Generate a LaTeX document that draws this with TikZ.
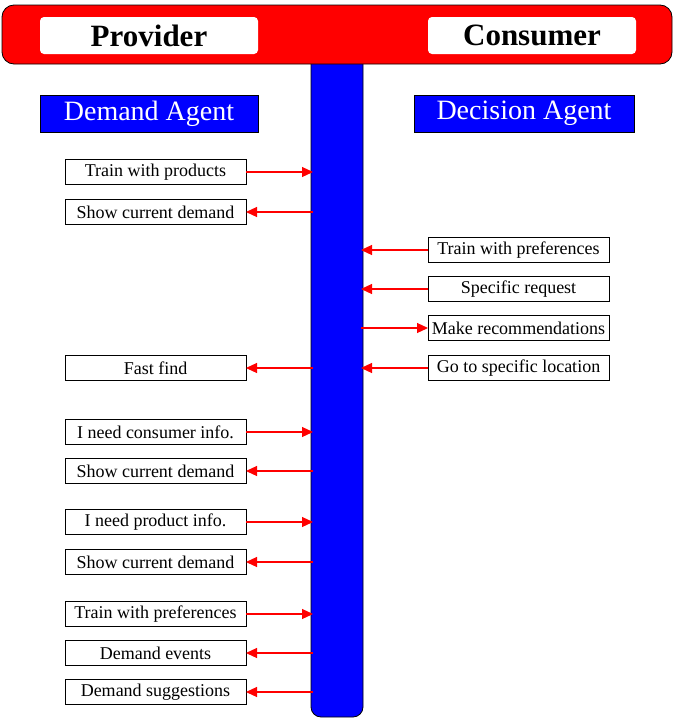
\documentclass[tikz,border=0pt]{standalone}
\usepackage{fontspec}
\setmainfont{Liberation Serif}
\usetikzlibrary{positioning}
\usetikzlibrary{arrows.meta}

\begin{document}
\begin{tikzpicture}[x=1pt, y=-1pt,
      every node/.style={inner sep=0pt, outer sep=0pt},
      role/.style={fill=white, rounded corners=4pt, minimum height=37pt,
         font=\bfseries\fontsize{31}{33}\selectfont},
      agent/.style={draw, fill=blue, text=white, line width=0.8pt,
         minimum height=37pt, font=\fontsize{28}{30}\selectfont},
      msg/.style={draw, fill=white, line width=0.8pt, minimum width=181pt,
         minimum height=25pt, font=\fontsize{18}{19}\selectfont},
      msgarrow/.style={red, line width=1.2pt,
         -{Triangle[length=11pt,width=10pt]}}]

   \useasboundingbox (0,0) rectangle (674,720);

   % pole and top bar
   \draw[fill=blue, line width=0.8pt, rounded corners=10pt]
      (311,60) -- (311,717) -- (363,717) [sharp corners] -- (363,60) -- cycle;
   \draw[fill=red, line width=0.8pt, rounded corners=12pt]
      (2,5) rectangle (672,64);

   \coordinate (pl) at (313,0);
   \coordinate (pr) at (361,0);

   \node[role, minimum width=218pt, anchor=north west] (prov) at (40,17) {Provider};
   \node[role, minimum width=208pt, anchor=north west] (cons) at (428,17) {Consumer};

   % agents
   \node[agent, minimum width=218pt, anchor=north west] (dem) at (40,95) {Demand Agent};
   \node[agent, minimum width=220pt, anchor=north west] (dec) at (414,95) {Decision Agent};

   % provider side
   \node[msg, below right=27.5pt and 25pt of dem.south west] (p1) {Train with products};
   \node[msg, below=15pt of p1]  (p2) {Show current demand};
   \node[msg, below=131pt of p2] (p3) {Fast find};
   \node[msg, below=39pt of p3]  (p4) {I need consumer info.};
   \node[msg, below=14pt of p4]  (p5) {Show current demand};
   \node[msg, below=26pt of p5]  (p6) {I need product info.};
   \node[msg, below=15pt of p6]  (p7) {Show current demand};
   \node[msg, below=27pt of p7]  (p8) {Train with preferences};
   \node[msg, below=14pt of p8]  (p9) {Demand events};
   \node[msg, below=14pt of p9]  (p10) {Demand suggestions};

   % consumer side
   \node[msg, below right=105.5pt and 14pt of dec.south west] (c1) {Train with preferences};
   \node[msg, below=14pt of c1] (c2) {Specific request};
   \node[msg, below=14pt of c2] (c3) {Make recommendations};
   \node[msg, below=15pt of c3] (c4) {Go to specific location};

   % messages
   \draw[msgarrow] (p1.east) -- (p1.east -| pl);
   \draw[msgarrow] (p2.east -| pl) -- (p2.east);
   \draw[msgarrow] (p3.east -| pl) -- (p3.east);
   \draw[msgarrow] (p4.east) -- (p4.east -| pl);
   \draw[msgarrow] (p5.east -| pl) -- (p5.east);
   \draw[msgarrow] (p6.east) -- (p6.east -| pl);
   \draw[msgarrow] (p7.east -| pl) -- (p7.east);
   \draw[msgarrow] (p8.east) -- (p8.east -| pl);
   \draw[msgarrow] (p9.east -| pl) -- (p9.east);
   \draw[msgarrow] (p10.east -| pl) -- (p10.east);

   \draw[msgarrow] (c1.west) -- (c1.west -| pr);
   \draw[msgarrow] (c2.west) -- (c2.west -| pr);
   \draw[msgarrow] (c3.west -| pr) -- (c3.west);
   \draw[msgarrow] (c4.west) -- (c4.west -| pr);

\end{tikzpicture}
\end{document}
